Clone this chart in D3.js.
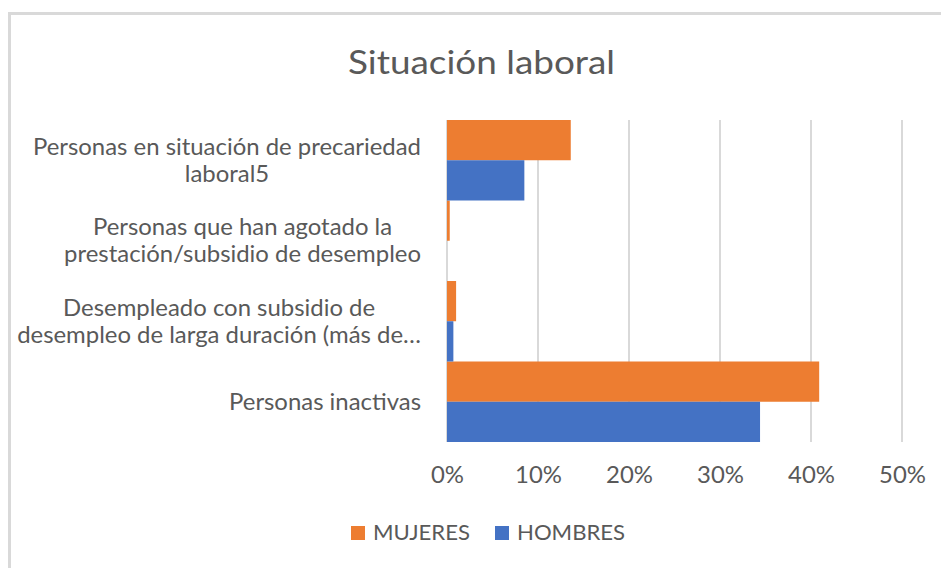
<!DOCTYPE html>
<html>
<head>
<meta charset="utf-8">
<script src="https://cdn.jsdelivr.net/npm/d3@7"></script>
<style>
  html, body { margin: 0; padding: 0; background: #fff; }
  svg { display: block; }
  text { font-family: Lato, "Open Sans", sans-serif; fill: #595959; }
</style>
</head>
<body>
<svg id="chart" width="941" height="568"></svg>
<script>
// ---- data ----
const title = "Situación laboral";
const categories = [
  "Personas en situación de precariedad laboral5",
  "Personas que han agotado la prestación/subsidio de desempleo",
  "Desempleado con subsidio de desempleo de larga duración (más de…",
  "Personas inactivas"
];
const categoryLines = [
  ["Personas en situación de precariedad", "laboral5"],
  ["Personas que han agotado la", "prestación/subsidio de desempleo"],
  ["Desempleado con subsidio de", "desempleo de larga duración (más de…"],
  ["Personas inactivas"]
];
const seriesNames = ["MUJERES", "HOMBRES"];
const mujeres = [0.136, 0.003, 0.010, 0.409];
const hombres = [0.085, 0.000, 0.007, 0.344];
const xTicks = [0, 0.1, 0.2, 0.3, 0.4, 0.5];
const colors = ["#ED7D31", "#4472C4"];

// ---- layout ----
const svg = d3.select("#chart");
const plot = { left: 447, right: 902, top: 120, bottom: 442 };
const labelRight = 421;

// chart border
svg.append("rect")
  .attr("x", 9.5).attr("y", 13.5)
  .attr("width", 1000).attr("height", 1000)
  .attr("fill", "none").attr("stroke", "#d9d9d9").attr("stroke-width", 3);

// helper: horizontal compression so text widths match the reference metrics
function widthFactor(fontSize, weight, refString, targetWidth) {
  const t = svg.append("text").attr("font-size", fontSize).attr("font-weight", weight).text(refString);
  const w = t.node().getComputedTextLength();
  t.remove();
  return targetWidth / w;
}
function squeeze(sel, k) {
  sel.each(function () {
    const w = this.getComputedTextLength();
    d3.select(this).attr("textLength", w * k).attr("lengthAdjust", "spacingAndGlyphs");
  });
}

const x = d3.scaleLinear().domain([0, 0.5]).range([plot.left, plot.right]);
const y = d3.scaleBand().domain(categories).range([plot.top, plot.bottom]).padding(0);
const ySub = d3.scaleBand().domain(seriesNames).range([0, y.bandwidth()]).padding(0);

// gridlines
svg.append("g")
  .selectAll("line")
  .data(xTicks)
  .join("line")
  .attr("x1", d => x(d)).attr("x2", d => x(d))
  .attr("y1", plot.top).attr("y2", plot.bottom)
  .attr("stroke", "#d9d9d9").attr("stroke-width", 2);

// bars
const seriesData = [mujeres, hombres];
seriesNames.forEach((name, si) => {
  svg.append("g")
    .selectAll("rect")
    .data(categories.map((c, i) => ({ c, v: seriesData[si][i] })))
    .join("rect")
    .attr("x", x(0))
    .attr("y", d => y(d.c) + ySub(name))
    .attr("width", d => x(d.v) - x(0))
    .attr("height", ySub.bandwidth())
    .attr("fill", colors[si]);
});

// category labels (each block centered on its widest line, which ends at labelRight)
const labelSize = 23;
const kLabel = widthFactor(labelSize, 400, "Personas en situación de precariedad", 388);
const lineGap = 27;
const labels = svg.append("g")
  .selectAll("text")
  .data(categories.map((c, i) => ({ c, lines: categoryLines[i] })))
  .join("text")
  .attr("font-size", labelSize)
  .attr("text-anchor", "middle");
labels.each(function (d) {
  const cy = y(d.c) + y.bandwidth() / 2;
  const n = d.lines.length;
  const first = cy + 8 - (n - 1) * lineGap / 2;
  const spans = d3.select(this).selectAll("tspan")
    .data(d.lines)
    .join("tspan")
    .attr("y", (l, j) => first + j * lineGap)
    .text(l => l);
  let maxW = 0;
  spans.each(function () { maxW = Math.max(maxW, this.getComputedTextLength() * kLabel); });
  spans.attr("x", labelRight - maxW / 2);
});
squeeze(labels.selectAll("tspan"), kLabel);

// x axis tick labels
const xAxis = d3.axisBottom(x).tickValues(xTicks).tickFormat(d3.format(".0%")).tickSize(0).tickPadding(0);
const gx = svg.append("g").attr("transform", `translate(0, ${plot.bottom})`).call(xAxis);
gx.select(".domain").remove();
gx.selectAll("text")
  .attr("font-size", labelSize)
  .attr("font-family", "Lato, 'Open Sans', sans-serif")
  .attr("fill", "#595959")
  .attr("dy", null)
  .attr("y", 41);
squeeze(gx.selectAll("text"), kLabel);

// title
const titleSize = 33;
const kTitle = widthFactor(titleSize, 400, title, 267);
svg.append("text")
  .attr("x", 481.5).attr("y", 73.5)
  .attr("text-anchor", "middle")
  .attr("font-size", titleSize)
  .text(title)
  .call(s => squeeze(s, kTitle));

// legend
const legendSize = 21;
const kLegend = widthFactor(legendSize, 400, "MUJERES", 97);
const legendX = [351, 495];
const lg = svg.append("g")
  .selectAll("g")
  .data(seriesNames)
  .join("g")
  .attr("transform", (d, i) => `translate(${legendX[i]}, 526)`);
lg.append("rect")
  .attr("width", 14).attr("height", 14)
  .attr("fill", (d, i) => colors[i]);
lg.append("text")
  .attr("x", 22).attr("y", 13.5)
  .attr("font-size", legendSize)
  .text(d => d)
  .call(s => squeeze(s, kLegend));
</script>
</body>
</html>
